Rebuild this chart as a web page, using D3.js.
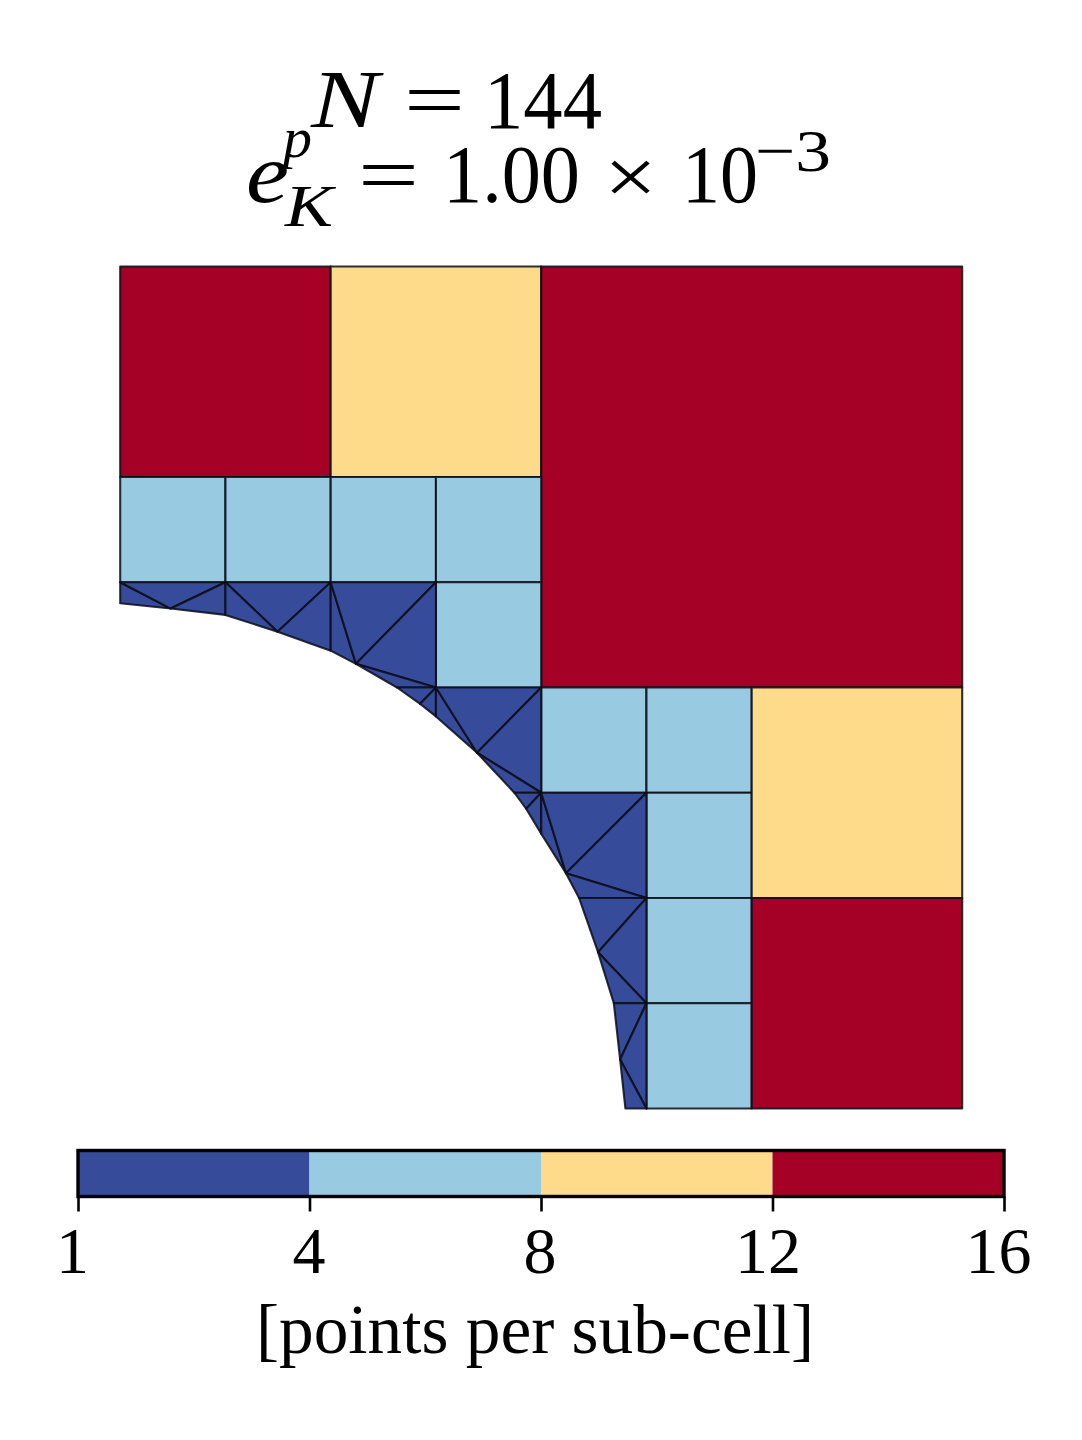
<!DOCTYPE html>
<html><head><meta charset="utf-8">
<script src="https://cdn.jsdelivr.net/npm/d3@7/dist/d3.min.js"></script>
<style>html,body{margin:0;padding:0;background:#fff}svg{display:block}text{font-family:"Liberation Serif",serif;fill:#000}</style>
</head><body><div id="chart"></div>
<script>
// ---- data ----
const levelLabels = ["1", "4", "8", "12", "16"];
const levelColors = ["#364B9A", "#98CAE1", "#FEDA8B", "#A50026"];
const axisLabel = "[points per sub-cell]";

// square cells: [x0, y0, x1, y1, colour level] in domain units
const squareCells = [
  [0,6,2,8,3],[2,6,4,8,2],[4,4,8,8,3],
  [0,5,1,6,1],[1,5,2,6,1],[2,5,3,6,1],[3,5,4,6,1],[3,4,4,5,1],
  [4,3,5,4,1],[5,3,6,4,1],[5,2,6,3,1],[5,1,6,2,1],[5,0,6,1,1],
  [6,2,8,4,2],[6,0,8,2,3]
];
// mesh points along the curved wall
const wallPoints = [
  [0,4.80],[0.48,4.75],[1,4.69],[1.495,4.53],[2,4.35],[2.24,4.225],[2.63,4],
  [2.85,3.845],[3,3.725],[3.39,3.38],[3.745,3],[3.857,2.848],[4,2.61],
  [4.235,2.236],[4.36,2],[4.54,1.485],[4.69,1],[4.75,0.465],[4.80,0]
];
// cut-cell triangles (all level 0): number = wallPoints index, pair = grid corner
const cutTriangles = [
  [[0,5],1,0],[[0,5],[1,5],1],[[1,5],2,1],
  [[1,5],[2,5],3],[[1,5],3,2],[[2,5],4,3],
  [[2,5],5,4],[[2,5],[3,5],5],[[3,5],[3,4],5],[5,[3,4],6],
  [6,[3,4],7],[7,[3,4],8],
  [[3,4],9,8],[[3,4],[4,4],9],[[4,4],[4,3],9],[9,[4,3],10],
  [10,[4,3],11],[11,[4,3],12],
  [[4,3],13,12],[[4,3],[5,3],13],[[5,3],[5,2],13],[13,[5,2],14],
  [14,[5,2],15],[[5,2],[5,1],15],[15,[5,1],16],
  [16,[5,1],17],[[5,1],[5,0],17],[17,[5,0],18]
];

// ---- drawing ----
const W = 1082, H = 1440;
const svg = d3.select("#chart").append("svg").attr("width", W).attr("height", H);
const x = d3.scaleLinear().domain([0, 8]).range([120.2, 962.2]);
const y = d3.scaleLinear().domain([0, 8]).range([1108.5, 266.5]);
const path = d3.line().x(p => x(p[0])).y(p => y(p[1]));

const corners = c => [[c[0],c[1]],[c[2],c[1]],[c[2],c[3]],[c[0],c[3]]];
const mesh = svg.append("g").attr("stroke", "#0b0d18").attr("stroke-width", 2.1)
  .attr("stroke-opacity", 0.85).attr("stroke-linejoin", "round");
mesh.selectAll("path.sq").data(squareCells).join("path").attr("class", "sq")
  .attr("d", c => path(corners(c)) + "Z").attr("fill", c => levelColors[c[4]]);
mesh.selectAll("path.tri").data(cutTriangles).join("path").attr("class", "tri")
  .attr("d", t => path(t.map(v => Array.isArray(v) ? v : wallPoints[v])) + "Z")
  .attr("fill", levelColors[0]);

// colour bar
const barTop = 1150.5, barBottom = 1196.5;
const cb = d3.scalePoint().domain(levelLabels).range([78, 1004]);
const bar = svg.append("g");
bar.selectAll("rect").data(levelColors).join("rect")
  .attr("x", (d, i) => cb(levelLabels[i])).attr("y", barTop)
  .attr("width", (d, i) => cb(levelLabels[i + 1]) - cb(levelLabels[i]))
  .attr("height", barBottom - barTop).attr("fill", d => d);
bar.append("rect").attr("x", cb.range()[0]).attr("y", barTop)
  .attr("width", cb.range()[1] - cb.range()[0]).attr("height", barBottom - barTop)
  .attr("fill", "none").attr("stroke", "#000").attr("stroke-width", 3.4);
const axis = d3.axisBottom(cb).tickSize(15).tickPadding(0).tickSizeOuter(0);
const ag = svg.append("g").attr("transform", `translate(0,${barBottom})`).call(axis);
ag.select(".domain").remove();
ag.selectAll(".tick line").attr("stroke", "#000").attr("stroke-width", 2.6);
const labelNudge = [-6, -1, -1.5, -5, -6];
ag.selectAll(".tick text").attr("font-size", 66).attr("font-family", '"Liberation Serif",serif')
  .attr("y", 0).attr("dy", 0)
  .attr("transform", (d, i) => `translate(${labelNudge[i]},76)`).attr("fill", "#000");
svg.append("text").attr("x", 535).attr("y", 1353).attr("text-anchor", "middle")
  .attr("font-size", 69.3).text(axisLabel);

// title
const title = svg.append("g");
const put = (s, px, py, size, italic, len) => {
  const t = title.append("text").attr("x", px).attr("y", py)
    .attr("font-size", size).attr("font-style", italic ? "italic" : "normal").text(s);
  if (len) t.attr("textLength", len).attr("lengthAdjust", "spacingAndGlyphs");
};
put("N", 311, 127, 82, true, 68);
put("=", 404, 127, 80, false, 61);
put("144", 484, 127.5, 82, false, 118);
put("e", 246, 202, 84, true, 43);
put("p", 283, 157, 58, true);
put("K", 285, 226, 60, true, 48);
put("=", 358, 202, 80, false, 61);
put("1.00", 443, 202, 82, false, 137);
put("×", 604, 204, 80, false, 53);
put("10", 682, 202, 82, false, 76);
put("−3", 755, 171, 60, false, 76);
</script></body></html>
